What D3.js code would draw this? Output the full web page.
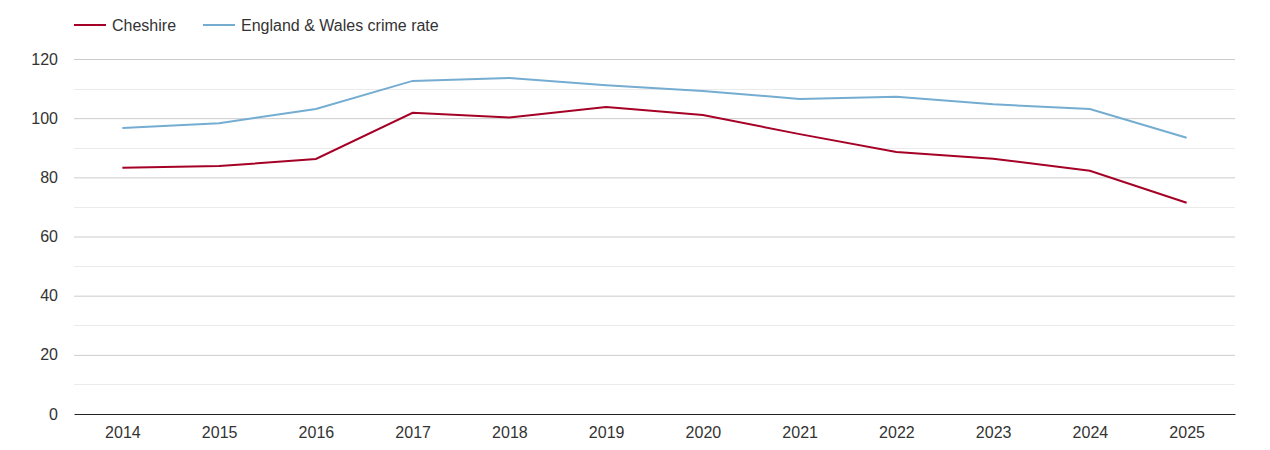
<!DOCTYPE html>
<html>
<head>
<meta charset="utf-8">
<script src="https://cdn.jsdelivr.net/npm/d3@7"></script>
<style>
  body { margin: 0; background: #fff; font-family: "Liberation Sans", Arial, sans-serif; }
  .tick text { fill: #333; font-size: 16px; font-family: "Liberation Sans", Arial, sans-serif; }
</style>
</head>
<body>
<script>
var years = ["2014", "2015", "2016", "2017", "2018", "2019", "2020", "2021", "2022", "2023", "2024", "2025"];
var cheshire = [83.2, 83.8, 86.2, 101.8, 100.2, 103.8, 101.1, 94.6, 88.6, 86.3, 82.2, 71.4];
var englandWales = [96.7, 98.3, 103.1, 112.6, 113.6, 111.1, 109.2, 106.5, 107.2, 104.7, 103.1, 93.4];
var yTicks = [0, 20, 40, 60, 80, 100, 120];

var width = 1270, height = 450;
var margin = { top: 59, right: 35, bottom: 36, left: 74 };
var w = width - margin.left - margin.right,
    h = height - margin.top - margin.bottom;

var svg = d3.select("body").append("svg")
    .attr("width", width)
    .attr("height", height);

var g = svg.append("g")
    .attr("transform", "translate(" + margin.left + "," + margin.top + ")");

var x = d3.scalePoint().domain(years).range([0, w]).padding(0.5);
var y = d3.scaleLinear().domain([0, 120]).range([h, 0]);

// minor gridlines every 10
g.append("g")
    .selectAll("line")
    .data(d3.range(10, 120, 20))
    .enter().append("line")
    .attr("x1", 0).attr("x2", w)
    .attr("y1", function(d) { return Math.round(y(d)) + 0.5; })
    .attr("y2", function(d) { return Math.round(y(d)) + 0.5; })
    .attr("stroke", "#ebebeb");

// major gridlines + labels
var yAxis = g.append("g")
    .call(d3.axisLeft(y).tickValues(yTicks).tickSize(-w).tickPadding(16));
yAxis.select(".domain").remove();
yAxis.selectAll(".tick line").attr("stroke", "#ccc")
    .attr("stroke-opacity", function(d) { return d === 0 ? 0 : 1; });

// x axis
var xAxis = g.append("g")
    .attr("transform", "translate(0," + h + ")")
    .call(d3.axisBottom(x).tickSize(0).tickPadding(13));
xAxis.select(".domain").attr("stroke", "#222");

var line = d3.line()
    .x(function(d, i) { return x(years[i]); })
    .y(function(d) { return y(d); });

g.append("path").datum(englandWales)
    .attr("fill", "none").attr("stroke", "#74add1").attr("stroke-width", 2)
    .attr("d", line);
g.append("path").datum(cheshire)
    .attr("fill", "none").attr("stroke", "#a50026").attr("stroke-width", 2)
    .attr("d", line);

// legend
var legend = [
    { name: "Cheshire", color: "#a50026", x: 74 },
    { name: "England & Wales crime rate", color: "#74add1", x: 203 }
];
var lg = svg.append("g").selectAll("g").data(legend).enter().append("g")
    .attr("transform", function(d) { return "translate(" + d.x + ",25)"; });
lg.append("line").attr("x1", 0).attr("x2", 32)
    .attr("stroke", function(d) { return d.color; }).attr("stroke-width", 2);
lg.append("text").attr("x", 38).attr("dy", "0.35em")
    .attr("fill", "#333").style("font-size", "16px")
    .text(function(d) { return d.name; });
</script>
</body>
</html>
